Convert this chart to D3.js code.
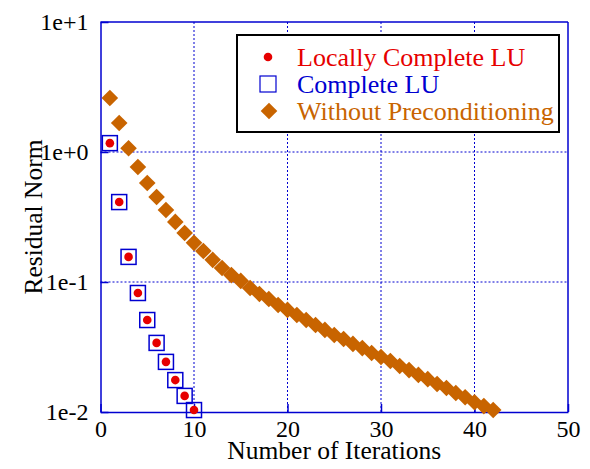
<!DOCTYPE html>
<html lang="en">
<head>
<meta charset="UTF-8">
<title>Residual Norm</title>
<script src="https://d3js.org/d3.v7.min.js"></script>
<style>
body,html{margin:0;padding:0;background:#fff;}
text{font-family:"Liberation Serif","Times New Roman",serif;}
</style>
</head>
<body>
<svg width="590" height="469"></svg>
<script>
// iterations and residual norms
const itersLU = [1,2,3,4,5,6,7,8,9,10];
const localLU = [1.17,0.412,0.156,0.0823,0.051,0.034,0.0243,0.0176,0.0133,0.01035];
const completeLU = [1.17,0.412,0.156,0.0823,0.051,0.034,0.0243,0.0176,0.0133,0.01035];
const itersNone = d3.range(1,43);
const noPrecond = [2.6,1.67,1.07,0.767,0.578,0.451,0.358,0.29,0.238,0.2,
  0.173,0.148,0.128,0.113,0.102,0.0899,0.0809,0.074,0.0665,0.061,
  0.0557,0.051,0.0467,0.0428,0.0391,0.0364,0.0334,0.031,0.0284,0.0265,
  0.0247,0.0226,0.021,0.0193,0.0179,0.0164,0.0153,0.014,0.013,0.0119,
  0.0111,0.01035];
const xTicks = [0,10,20,30,40,50];
const yTicks = [1e-2,1e-1,1e0,1e1];
const yTickLabels = ["1e-2","1e-1","1e+0","1e+1"];
const seriesNames = ["Locally Complete LU","Complete LU","Without Preconditioning"];

const red = "#e60000", blue = "#0000d0", orange = "#c86400";

let svg = d3.select("svg"),
  margin = {top:22,right:22,bottom:57,left:100.5},
  w = 590 - margin.left - margin.right,
  h = 469 - margin.top - margin.bottom,
  g = svg.append("g").attr("transform",`translate(${margin.left},${margin.top})`);

let x = d3.scaleLinear().domain([0,50]).range([0,w]);
let y = d3.scaleLog().domain([1e-2,1e1]).range([h,0]);

// grid
g.append("g").selectAll("line").data(xTicks.slice(1,-1)).enter().append("line")
  .attr("x1",d=>x(d)).attr("x2",d=>x(d)).attr("y1",0).attr("y2",h)
  .attr("stroke",blue).attr("stroke-width",1).attr("stroke-dasharray","2,2");
g.append("g").selectAll("line").data(yTicks.slice(1,-1)).enter().append("line")
  .attr("y1",d=>y(d)).attr("y2",d=>y(d)).attr("x1",0).attr("x2",w)
  .attr("stroke",blue).attr("stroke-width",1).attr("stroke-dasharray","2,2");

// axes (inward ticks)
let xAxis = g.append("g").attr("transform",`translate(0,${h})`)
  .call(d3.axisBottom(x).tickValues(xTicks).tickSizeInner(-8).tickSizeOuter(0));
let yAxis = g.append("g")
  .call(d3.axisLeft(y).tickValues(yTicks).tickFormat((d,i)=>yTickLabels[i]).tickSizeInner(-8).tickSizeOuter(0).tickPadding(12));
[xAxis,yAxis].forEach(a=>{
  a.selectAll("path,line").attr("stroke",blue).attr("stroke-width",1.5);
  a.selectAll("text").attr("fill","#000").style("font-size","24px")
    .style("font-family",'"Liberation Serif","Times New Roman",serif');
});
xAxis.selectAll("text").attr("dy",0).attr("y",25);
yAxis.selectAll("text").attr("dy","0.3em");

g.append("line").attr("x1",0).attr("x2",w).attr("y1",0).attr("y2",0)
  .attr("stroke",blue).attr("stroke-width",1.5);
g.append("line").attr("x1",w).attr("x2",w).attr("y1",0).attr("y2",h)
  .attr("stroke",blue).attr("stroke-width",1.5);

// axis titles
svg.append("text").attr("x",margin.left+w/2).attr("y",459)
  .attr("text-anchor","middle").style("font-size","25.5px").text("Number of Iterations");
svg.append("text").attr("transform",`translate(42,${margin.top+h/2}) rotate(-90)`)
  .attr("text-anchor","middle").style("font-size","25.5px").text("Residual Norm");

const diamond = "M0,-8.3L8.3,0L0,8.3L-8.3,0Z";

// without preconditioning
g.append("g").selectAll("path").data(noPrecond).enter().append("path")
  .attr("d",diamond)
  .attr("transform",(d,i)=>`translate(${x(itersNone[i])},${y(d)})`)
  .attr("fill",orange);

// complete LU squares
g.append("g").selectAll("rect").data(completeLU).enter().append("rect")
  .attr("x",(d,i)=>x(itersLU[i])-7.5).attr("y",d=>y(d)-7.5)
  .attr("width",15).attr("height",15)
  .attr("fill","none").attr("stroke",blue).attr("stroke-width",1.5);

// locally complete LU dots
g.append("g").selectAll("circle").data(localLU).enter().append("circle")
  .attr("cx",(d,i)=>x(itersLU[i])).attr("cy",d=>y(d)).attr("r",4.3)
  .attr("fill",red);

// legend
let lg = svg.append("g");
lg.append("rect").attr("x",237).attr("y",35).attr("width",322).attr("height",97)
  .attr("fill","#fff").attr("stroke","#000").attr("stroke-width",2);
const rowY = [57,84,111], colors = [red,blue,orange];
lg.append("circle").attr("cx",268).attr("cy",rowY[0]).attr("r",4.3).attr("fill",red);
lg.append("rect").attr("x",260).attr("y",rowY[1]-8).attr("width",16).attr("height",16)
  .attr("fill","none").attr("stroke",blue).attr("stroke-width",1.2);
lg.append("path").attr("d",diamond).attr("transform",`translate(269,${rowY[2]})`).attr("fill",orange);
lg.selectAll("text.lbl").data(seriesNames).enter().append("text").attr("class","lbl")
  .attr("x",297).attr("y",(d,i)=>rowY[i]+9)
  .attr("fill",(d,i)=>colors[i]).style("font-size","26px").text(d=>d);
</script>
</body>
</html>
